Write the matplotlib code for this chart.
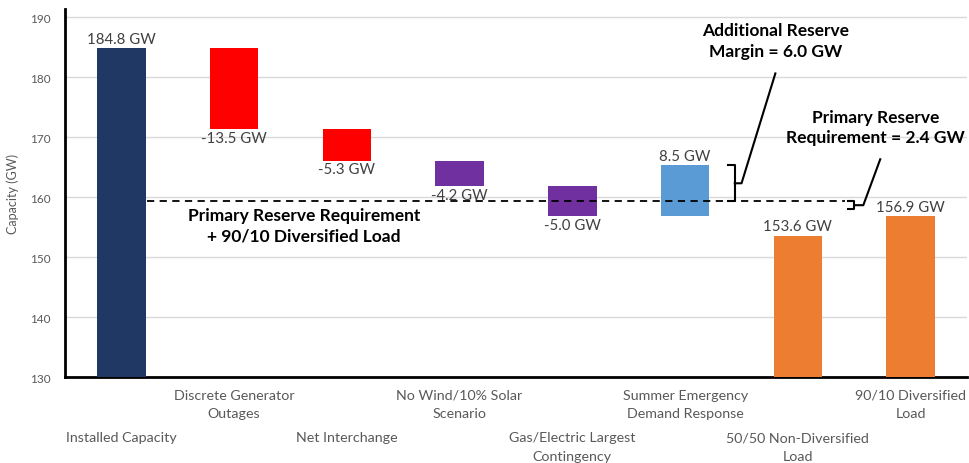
import numpy as np
import matplotlib
matplotlib.use("Agg")
import matplotlib.pyplot as plt

plt.rcParams['font.family'] = ['Lato', 'DejaVu Sans']

# Chart data
categories = ["Installed Capacity", "Discrete Generator\nOutages", "Net Interchange",
              "No Wind/10% Solar\nScenario", "Gas/Electric Largest\nContingency",
              "Summer Emergency\nDemand Response", "50/50 Non-Diversified\nLoad",
              "90/10 Diversified\nLoad"]
values = [184.8, -13.5, -5.3, -4.2, -5.0, 8.5, 153.6, 156.9]
is_total = [True, False, False, False, False, False, True, True]
bar_colors = ["#1f3864", "#ff0000", "#ff0000", "#7030a0", "#7030a0",
              "#5b9bd5", "#ed7d31", "#ed7d31"]
primary_reserve = 2.4
additional_margin = 6.0

# waterfall bottoms / heights
bottoms, heights, tops = [], [], []
running = 0.0
for v, tot in zip(values, is_total):
    if tot:
        bottoms.append(130)
        heights.append(v - 130)
        running = v
    else:
        bottoms.append(min(running, running + v))
        heights.append(abs(v))
        running = running + v
    tops.append(running)

reserve_line = values[-1] + primary_reserve

fig = plt.figure(figsize=(9.69, 4.64), dpi=100)
ax = fig.add_axes([0.067, 0.185, 0.931, 0.793])

x = np.arange(len(values))
ax.bar(x, heights, bottom=bottoms, width=0.43, color=bar_colors, zorder=3)

# value labels
for i, (v, tot) in enumerate(zip(values, is_total)):
    if tot:
        ax.annotate(f"{v:.1f} GW", (i, bottoms[i] + heights[i]), xytext=(0, 1.5),
                    textcoords="offset points", ha="center", va="bottom",
                    fontsize=10.8, color="#404040")
    elif v < 0:
        ax.annotate(f"{v:.1f} GW", (i, bottoms[i]), xytext=(0, -1),
                    textcoords="offset points", ha="center", va="top",
                    fontsize=10.8, color="#404040")
    else:
        ax.annotate(f"{v:.1f} GW", (i, bottoms[i] + heights[i]), xytext=(0, 1.5),
                    textcoords="offset points", ha="center", va="bottom",
                    fontsize=10.8, color="#404040")

# reserve requirement dashed line
ax.plot([0.23, 6.42], [reserve_line, reserve_line], ls=(0, (4, 3)),
        color="black", lw=1.3, zorder=4)
ax.text(1.62, reserve_line - 1.0,
        "Primary Reserve Requirement\n+ 90/10 Diversified Load",
        ha="center", va="top", fontsize=12.5, fontweight="bold", linespacing=1.35)

# additional reserve margin bracket
top_dr = tops[5]
bx = 5.44
ax.plot([bx - 0.06, bx, bx, bx - 0.06], [top_dr, top_dr, reserve_line, reserve_line],
        color="black", lw=1.5, zorder=4)
mid = (top_dr + reserve_line) / 2
ax.plot([bx, bx + 0.06, 5.80], [mid, mid, 180.6], color="black", lw=1.5, zorder=4)
ax.text(5.80, 186.1, f"Additional Reserve\nMargin = {additional_margin:.1f} GW",
        ha="center", va="center", fontsize=12.5, fontweight="bold", linespacing=1.35)

# primary reserve bracket
px = 6.50
ax.plot([px - 0.06, px, px, px - 0.06], [reserve_line, reserve_line, reserve_line - 1.3, reserve_line - 1.3],
        color="black", lw=1.5, zorder=4)
pm = reserve_line - 0.65
ax.plot([px, px + 0.08, 6.73], [pm, pm, 166.3], color="black", lw=1.5, zorder=4)
ax.text(6.69, 171.7, f"Primary Reserve\nRequirement = {primary_reserve:.1f} GW",
        ha="center", va="center", fontsize=12.5, fontweight="bold", linespacing=1.35)

# category labels, staggered in two rows
tr = ax.get_xaxis_transform()
for i, c in enumerate(categories):
    yrow = -0.031 if i % 2 else -0.147
    ax.text(i, yrow, c, transform=tr, ha="center", va="top", fontsize=10.3,
            color="#595959", linespacing=1.65)

# axes styling
ax.set_xlim(-0.5, 7.5)
ax.set_ylim(130, 191.3)
ax.set_yticks(np.arange(130, 191, 10))
ax.grid(axis="y", color="#d9d9d9", lw=1, zorder=0)
ax.tick_params(axis="y", length=0, labelsize=8.5, labelcolor="#595959", pad=10)
ax.set_xticks(x)
ax.tick_params(axis="x", length=0, labelbottom=False)
ax.set_ylabel("Capacity (GW)", fontsize=9, color="#595959", labelpad=8)
for s in ["top", "right"]:
    ax.spines[s].set_visible(False)
ax.spines["left"].set_linewidth(2)
ax.spines["bottom"].set_linewidth(2)

fig.savefig("out.png", dpi=100)
